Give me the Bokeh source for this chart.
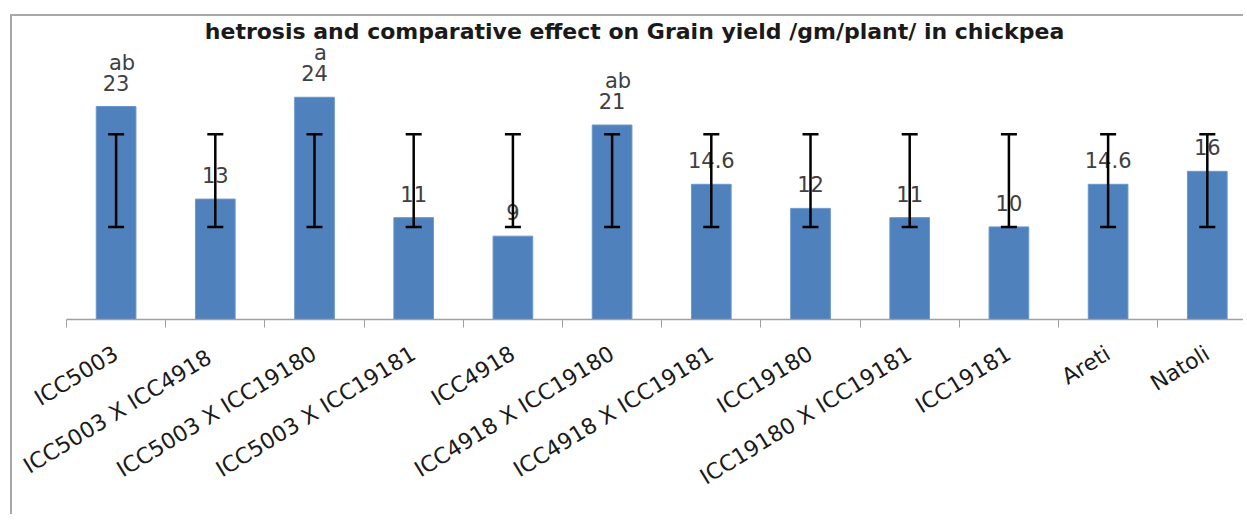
from bokeh.plotting import figure
from bokeh.models import ColumnDataSource, Whisker, TeeHead, FixedTicker, Label, Range1d
from bokeh.core.properties import value
from bokeh.embed import file_html
from bokeh.resources import INLINE

# ---- data ----
categories = ["ICC5003", "ICC5003  X ICC4918", "ICC5003 X ICC19180", "ICC5003 X ICC19181",
              "ICC4918", "ICC4918 X ICC19180", "ICC4918 X ICC19181", "ICC19180",
              "ICC19180 X ICC19181", "ICC19181", "Areti", "Natoli"]
yields = [23, 13, 24, 11, 9, 21, 14.6, 12, 11, 10, 14.6, 16]
value_labels = ["23", "13", "24", "11", "9", "21", "14.6", "12", "11", "10", "14.6", "16"]
letters = ["ab", "", "a", "", "", "ab", "", "", "", "", "", ""]
err_low = [10, 10, 10, 10, 10, 10, 10, 10, 10, 10, 10, 10]
err_high = [20, 20, 20, 20, 20, 20, 20, 20, 20, 20, 20, 20]
title_text = "hetrosis and comparative effect on Grain yield /gm/plant/ in chickpea"

FONT = "DejaVu Sans"
idx = list(range(len(categories)))

src = ColumnDataSource(dict(x=idx, y=yields, lab=value_labels, let=letters,
                            lo=err_low, hi=err_high))

p = figure(width=1233, height=500, output_backend="svg", toolbar_location=None,
           x_range=Range1d(-0.5, 11.385), y_range=Range1d(0, 32.72),
           min_border_left=54, min_border_right=0, min_border_top=0, min_border_bottom=197)
p.styles = {"margin-left": "10px", "margin-top": "14px",
            "border-left": "2px solid #a8a8a8", "border-top": "2px solid #a8a8a8"}

p.outline_line_color = None
p.xgrid.visible = False
p.ygrid.visible = False
p.yaxis.visible = False
p.background_fill_color = "white"
p.border_fill_color = "white"

p.vbar(x="x", top="y", width=0.4, source=src, fill_color="#4F81BD",
       line_color="#6a97cf", line_width=1)

p.text(x="x", y="y", text="lab", source=src, y_offset=-24, text_align="center",
       text_baseline="middle", text_font=value(FONT), text_font_size="21px",
       text_color="#404040")
p.text(x="x", y="y", text="let", source=src, y_offset=-44, x_offset=6, text_align="center",
       text_baseline="middle", text_font=value(FONT), text_font_size="21px",
       text_color="#404040")

p.add_layout(Whisker(source=src, base="x", lower="lo", upper="hi", level="overlay",
                     line_color="black", line_width=2.5,
                     upper_head=TeeHead(size=16, line_width=2.5, line_color="black"),
                     lower_head=TeeHead(size=16, line_width=2.5, line_color="black")))

ax = p.xaxis[0]
ax.ticker = FixedTicker(ticks=idx, minor_ticks=[i - 0.5 for i in range(len(categories) + 1)])
ax.major_label_overrides = {i: c for i, c in zip(idx, categories)}
ax.major_tick_line_color = None
ax.minor_tick_line_color = "#a0a0a0"
ax.minor_tick_in = 0
ax.minor_tick_out = 8
ax.axis_line_color = "#a0a0a0"
ax.axis_line_width = 1.5
ax.major_label_orientation = 0.55
ax.major_label_standoff = 24
ax.major_label_text_font = FONT
ax.major_label_text_font_size = "22px"
ax.major_label_text_color = "#1a1a1a"

p.add_layout(Label(x=5.226, y=31.1, text=title_text, text_align="center",
                   text_baseline="middle", text_font=FONT, text_font_style="bold",
                   text_font_size="22px", text_color="#1a1a1a"))

open("out.html", "w").write(file_html(p, INLINE))
